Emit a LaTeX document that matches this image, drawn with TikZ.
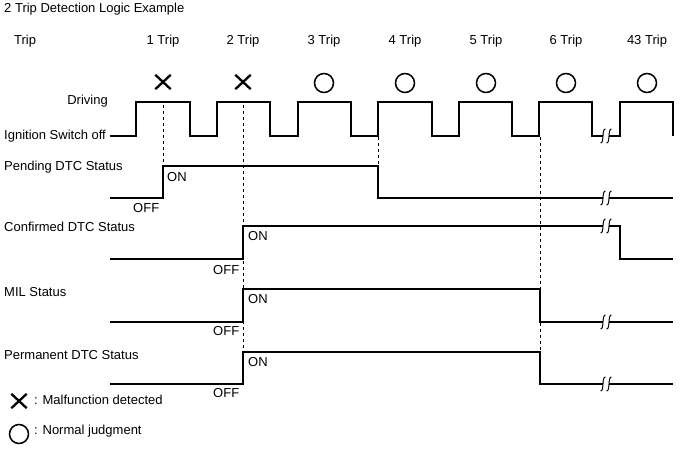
\documentclass[tikz,border=0pt]{standalone}
\usepackage{fontspec}
\setmainfont{Liberation Sans}
\usetikzlibrary{shapes.misc}
\tikzset{brk/.pic={
		\fill[white] (-3,-1.5) rectangle (3,1.5);
		\draw[line width=1pt] (-0.5,-7) .. controls (-4.5,-7.5) and (-1.5,7.5) .. (-5.5,7);
		\draw[line width=1pt] (5.5,-7) .. controls (1.5,-7.5) and (4.5,7.5) .. (0.5,7);
	}}
\begin{document}
\begin{tikzpicture}[x=1pt,y=-1pt,
			every node/.style = {font=\fontsize{13}{15}\selectfont, inner sep=0pt},
			wave/.style = {line width=1.3pt},
			guide/.style = {dashed, line width=0.9pt},
			lbl/.style = {anchor=west},
			ng/.style = {cross out, draw, line width=2.3pt, minimum width=13pt, minimum height=12pt},
			ok/.style = {circle, draw, line width=1.5pt, minimum size=19pt}]
			\useasboundingbox (0,0) rectangle (688,463);
			
			\node[lbl] (title) at (4,9) {2 Trip Detection Logic Example};
			\node[lbl] (trip) at (14,41) {Trip};
			\foreach \n/\x/\t in {1/163/1 Trip, 2/243/2 Trip, 3/324/3 Trip, 4/405/4 Trip,
				5/486/5 Trip, 6/566/6 Trip, 7/647/43 Trip}
			\node (trip\n) at (\x,41) {\t};
			\foreach \n/\x in {1/163, 2/243}
			\node[ng] (mark\n) at (\x,82) {};
			\foreach \n/\x in {3/324, 4/405, 5/486, 6/566, 7/647}
			\node[ok] (mark\n) at (\x,83) {};
			
			% signal names
			\node[anchor=east] (drv) at (108,101) {Driving};
			\node[lbl] (ign) at (4,136) {Ignition Switch off};
			\node[lbl] (pend) at (4,167) {Pending DTC Status};
			\node[lbl] (conf) at (4,227) {Confirmed DTC Status};
			\node[lbl] (mil) at (4,292) {MIL Status};
			\node[lbl] (perm) at (4,355) {Permanent DTC Status};
			
			% dashed guides
			\draw[guide] (163,105) -- (163,166);
			\draw[guide] (243,105) -- (243,352);
			\draw[guide] (378,137) -- (378,166);
			\draw[guide] (540,137) -- (540,352);
			
			% waveforms
			\draw[wave] (110,136)
			\foreach \r/\f in {136/190, 217/270, 298/351, 378/432, 459/512, 539/592, 620/673}
			{ -- (\r,136) -- (\r,102) -- (\f,102) -- (\f,136) };
			\draw[wave] (110,198) -- (163,198) -- (163,166) -- (378,166) -- (378,198) -- (673,198);
			\draw[wave] (110,259) -- (243,259) -- (243,226) -- (620,226) -- (620,259) -- (673,259);
			\draw[wave] (110,322) -- (243,322) -- (243,289) -- (540,289) -- (540,322) -- (673,322);
			\draw[wave] (110,384) -- (243,384) -- (243,352) -- (540,352) -- (540,384) -- (673,384);
			\foreach \y in {136, 198, 226, 322, 384}
			\pic at (606,\y) {brk};
			
			% ON / OFF
			\node[lbl] (pon) at (167,177) {ON};
			\node[lbl] (poff) at (133,208) {OFF};
			\node[lbl] (con) at (248,236) {ON};
			\node[lbl] (coff) at (213,270) {OFF};
			\node[lbl] (mon) at (248,299) {ON};
			\node[lbl] (moff) at (213,331) {OFF};
			\node[lbl] (ron) at (248,362) {ON};
			\node[lbl] (roff) at (213,393) {OFF};
			
			% legend
			\node[ng] (keyng) at (19,401) {};
			\node[lbl] (keyngtxt) at (34,400) {: Malfunction detected};
			\node[ok] (keyok) at (19,434) {};
			\node[lbl] (keyoktxt) at (34,431) {: Normal judgment};
		\end{tikzpicture}
\end{document}
